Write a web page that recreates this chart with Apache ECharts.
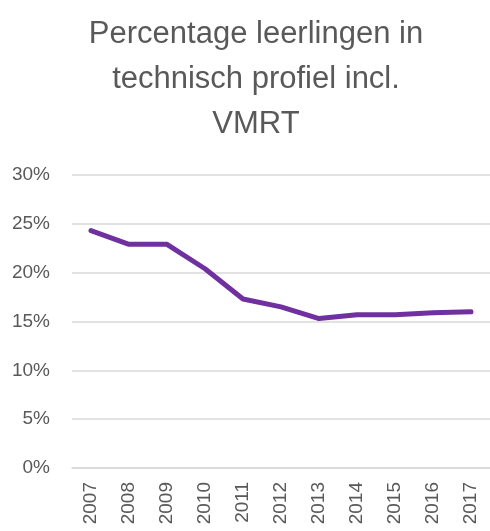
<!DOCTYPE html>
<html>
<head>
<meta charset="utf-8">
<script src="https://cdn.jsdelivr.net/npm/echarts@6/dist/echarts.min.js"></script>
<style>
html,body{margin:0;padding:0;background:#fff;}
#chart{width:490px;height:531px;}
</style>
</head>
<body>
<div id="chart"></div>
<script>
var titleText = 'Percentage leerlingen in\ntechnisch profiel incl.\nVMRT';
var years = ['2007','2008','2009','2010','2011','2012','2013','2014','2015','2016','2017'];
var percentages = [24.3, 22.9, 22.9, 20.4, 17.3, 16.5, 15.3, 15.7, 15.7, 15.9, 16.0];
var yTicks = [0, 5, 10, 15, 20, 25, 30];

var chart = echarts.init(document.getElementById('chart'), null, {renderer: 'canvas'});
chart.setOption({
  backgroundColor: '#ffffff',
  animation: false,
  title: {
    text: titleText,
    left: 251,
    top: 7,
    textAlign: 'center',
    textStyle: {
      fontFamily: 'Liberation Sans',
      fontSize: 31,
      fontWeight: 'normal',
      color: '#595959',
      lineHeight: 45
    }
  },
  grid: {left: 72, right: 0, top: 175, bottom: 63, containLabel: false},
  xAxis: {
    type: 'category',
    data: years,
    boundaryGap: true,
    axisLine: {show: true, lineStyle: {color: '#d9d9d9', width: 1.5}},
    axisTick: {show: false},
    axisLabel: {
      rotate: 90,
      margin: 14,
      fontFamily: 'Liberation Sans',
      fontSize: 19,
      color: '#595959'
    }
  },
  yAxis: {
    type: 'value',
    min: yTicks[0],
    max: yTicks[yTicks.length - 1],
    interval: 5,
    axisLine: {show: false},
    axisTick: {show: false},
    splitLine: {lineStyle: {color: '#d9d9d9', width: 1.5}},
    axisLabel: {
      formatter: '{value}%',
      margin: 22,
      fontFamily: 'Liberation Sans',
      fontSize: 19,
      color: '#595959'
    }
  },
  series: [{
    type: 'line',
    data: percentages,
    showSymbol: false,
    symbol: 'none',
    lineStyle: {color: '#7030A0', width: 5, cap: 'round', join: 'round'},
    itemStyle: {color: '#7030A0'}
  }]
});
</script>
</body>
</html>
